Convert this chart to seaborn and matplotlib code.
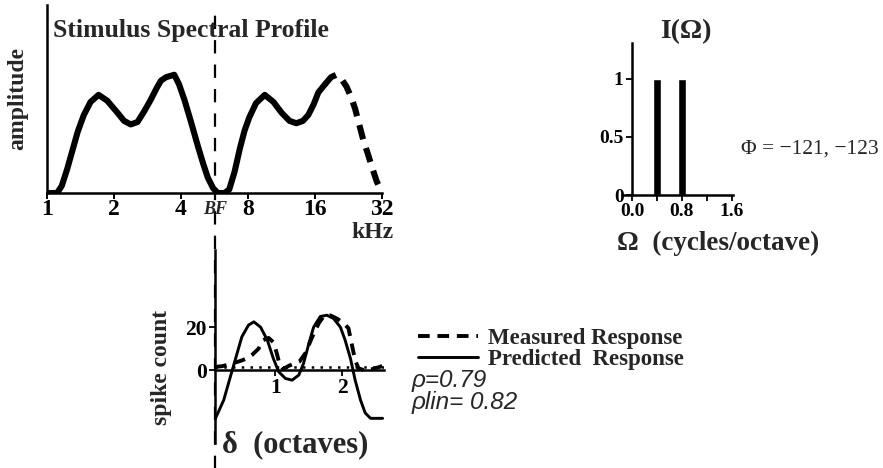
import seaborn as sns
import matplotlib.pyplot as plt

# stimulus spectral profile (kHz, arbitrary amplitude)
freq_khz = [1.000, 1.057, 1.110, 1.165, 1.231, 1.301, 1.375, 1.464, 1.569, 1.705,
            1.866, 2.071, 2.219, 2.378, 2.549, 2.732, 2.928, 3.095, 3.249, 3.434,
            3.732, 3.918, 4.141, 4.438, 4.757, 5.028, 5.278, 5.579, 5.856, 6.276,
            6.589, 6.964, 7.362, 7.727, 8.111, 8.693, 9.514, 10.41, 11.31, 12.29,
            13.18, 14.12, 14.93, 15.78, 16.56, 17.75]
amp = [0.00, 0.00, 0.00, 0.06, 0.20, 0.36, 0.52, 0.66, 0.77, 0.83,
       0.78, 0.68, 0.61, 0.58, 0.60, 0.69, 0.79, 0.88, 0.95, 0.98,
       1.00, 0.92, 0.79, 0.60, 0.40, 0.25, 0.13, 0.04, 0.00, 0.00,
       0.03, 0.18, 0.38, 0.53, 0.64, 0.76, 0.83, 0.77, 0.68, 0.61,
       0.59, 0.61, 0.66, 0.75, 0.85, 0.92]
# part beyond the measured range (dashed)
freq_tail = [17.75, 18.90, 19.97, 21.11, 22.16, 23.26, 24.25, 25.28, 26.35, 27.66,
             28.84, 30.27, 31.34, 32.00]
amp_tail = [0.92, 0.98, 1.00, 0.96, 0.90, 0.81, 0.71, 0.58, 0.45, 0.33,
            0.22, 0.10, 0.04, 0.00]
bf_khz = 5.7
khz_ticks = [1, 2, 4, 8, 16, 32]

# ripple spectrum I(Omega)
omega = [0.4, 0.8]
i_omega = [1.0, 1.0]

# responses vs delta (octaves)
delta_pred = [0.10, 0.23, 0.33, 0.40, 0.50, 0.60, 0.68, 0.78, 0.88, 0.97,
              1.05, 1.15, 1.25, 1.35, 1.42, 1.50, 1.57, 1.67, 1.77, 1.87,
              1.97, 2.04, 2.12, 2.19, 2.27, 2.34, 2.42, 2.50, 2.60]
count_pred = [-23, -14, -3, 4.6, 15.5, 21, 22.5, 20, 14, 5.4,
              -0.8, -3.9, -4.7, -2.3, 3.1, 12.4, 20, 25, 25.6, 24,
              20, 14, 5.4, -4.7, -14, -20, -22.5, -22.5, -22.5]
delta_meas = [0.10, 0.20, 0.30, 0.40, 0.50, 0.58, 0.65, 0.75, 0.82, 0.90,
              0.97, 1.02, 1.06, 1.12, 1.20, 1.28, 1.36, 1.45, 1.55, 1.65,
              1.73, 1.82, 1.92, 2.03, 2.09, 2.14, 2.19, 2.24, 2.32, 2.40,
              2.48, 2.56, 2.62]
count_meas = [1.5, 1.8, 2.5, 3.5, 4.5, 5.5, 7, 10, 14, 15,
              13, 8, 3, 0.5, 2, 3, 4, 8, 15.5, 22,
              25.5, 25.5, 24, 21.5, 19.5, 12, 4.5, 0.8, 0, 0,
              0.8, 1.5, 2.5]
spont = 1.5

sns.set_style('ticks')
plt.rcParams['font.family'] = ['Liberation Serif', 'DejaVu Serif']
plt.rcParams['font.weight'] = 'bold'
plt.rcParams['axes.linewidth'] = 1.8
plt.rcParams['axes.edgecolor'] = 'black'
plt.rcParams['xtick.color'] = 'black'
plt.rcParams['ytick.color'] = 'black'

W, H = 883, 468
fig = plt.figure(figsize=(W / 100, H / 100), dpi=100)


def box(x0, y0, x1, y1):
    # pixel box (top-left origin) -> figure fraction rect
    return [x0 / W, 1 - y1 / H, (x1 - x0) / W, (y1 - y0) / H]


def ftext(x, y, s, **kw):
    return fig.text(x / W, 1 - y / H, s, **kw)


sans_it = dict(fontweight='normal', fontstyle='italic',
               family=['Liberation Sans', 'DejaVu Sans'])

# ---- stimulus spectral profile
ax1 = fig.add_axes(box(47, 5, 382, 193))
sns.lineplot(x=freq_khz, y=amp, ax=ax1, color='black', lw=4.4)
sns.lineplot(x=freq_tail, y=amp_tail, ax=ax1, color='black', lw=4.4,
             linestyle=(0, (2.4, 1.5)))
ax1.set_xscale('log', base=2)
ax1.set_xlim(1, 32)
ax1.set_ylim(0, 1.59)
ax1.set_xticks(khz_ticks)
ax1.set_xticklabels([str(k) for k in khz_ticks])
ax1.minorticks_off()
ax1.set_yticks([])
ax1.tick_params(axis='x', labelsize=17, length=4, width=1.4, pad=0)
for s in ['top', 'right']:
    ax1.spines[s].set_visible(False)
ax1.set_ylabel('amplitude', fontsize=17, fontweight='bold')
ax1.yaxis.set_label_coords(-0.055, 0.5)
ftext(53, 30, 'Stimulus Spectral Profile', fontsize=18.5, fontweight='bold',
      ha='left', va='center')
ax1.axvline(bf_khz, ymin=-1.47, ymax=0.975, clip_on=False, color='black',
            lw=1.6, linestyle=(0, (6, 5)))
ax1.text(bf_khz, -0.045, 'BF', transform=ax1.get_xaxis_transform(),
         fontsize=13, fontstyle='italic', ha='center', va='top')
ftext(372, 232, 'kHz', fontsize=17, fontweight='bold', ha='center', va='center')

# ---- I(Omega)
ax2 = fig.add_axes(box(622, 43, 733, 195))
sns.barplot(x=omega, y=i_omega, ax=ax2, native_scale=True, color='black',
            width=0.3, errorbar=None, saturation=1)
ax2.set_xlim(-0.16, 1.62)
ax2.set_ylim(0, 1.31)
ax2.spines['left'].set_position(('data', 0))
for s in ['top', 'right']:
    ax2.spines[s].set_visible(False)
ax2.set_xticks([0.0, 0.8, 1.6])
ax2.set_xticklabels(['0.0', '0.8', '1.6'])
ax2.set_xticks([0.4, 1.2], minor=True)
ax2.set_yticks([0, 0.5, 1])
ax2.set_yticklabels(['0', '0.5', '1'])
ax2.tick_params(axis='both', which='both', labelsize=14, length=4, width=1.3, pad=2)
ax2.set_xlabel('')
ftext(718, 243, 'Ω  (cycles/octave)', fontsize=19.5, fontweight='bold',
      ha='center', va='center')
ftext(686, 32, 'I(Ω)', fontsize=20, fontweight='bold', ha='center', va='center')
ftext(741, 149, 'Φ = −121, −123', fontsize=15.5, fontweight='normal',
      ha='left', va='center')

# ---- measured / predicted responses
ax3 = fig.add_axes(box(215, 250, 384, 443))
sns.lineplot(x=delta_meas, y=count_meas, ax=ax3, color='black', lw=2.8,
             linestyle=(0, (3, 2)), label='Measured Response')
sns.lineplot(x=delta_pred, y=count_pred, ax=ax3, color='black', lw=2.1,
             label='Predicted  Response')
ax3.axhline(spont, color='black', lw=1.8, linestyle=(0, (1, 2.5)))
ax3.set_xlim(0.10, 2.62)
ax3.set_ylim(-34, 56)
ax3.spines['bottom'].set_position(('data', 0))
for s in ['top', 'right']:
    ax3.spines[s].set_visible(False)
ax3.set_xticks([1, 2])
ax3.set_yticks([0, 20])
ax3.tick_params(axis='both', labelsize=15.5, length=4, width=1.3, pad=2)
ax3.set_ylabel('spike count', fontsize=17, fontweight='bold')
ax3.yaxis.set_label_coords(-0.255, 0.39)
ftext(222, 445, 'δ  (octaves)', fontsize=22, fontweight='bold',
      ha='left', va='center')
ax3.legend(loc='upper left', bbox_to_anchor=(409 / W, 1 - 319 / H),
           bbox_transform=fig.transFigure, frameon=False, fontsize=16.5,
           handlelength=2.6, handletextpad=0.45, labelspacing=0.0,
           borderaxespad=0)
ftext(412, 380, 'ρ=0.79', fontsize=17.5, ha='left', va='center', **sans_it)
ftext(412, 402, 'ρlin= 0.82', fontsize=17.5, ha='left', va='center', **sans_it)

fig.savefig('out.png', dpi=100)
